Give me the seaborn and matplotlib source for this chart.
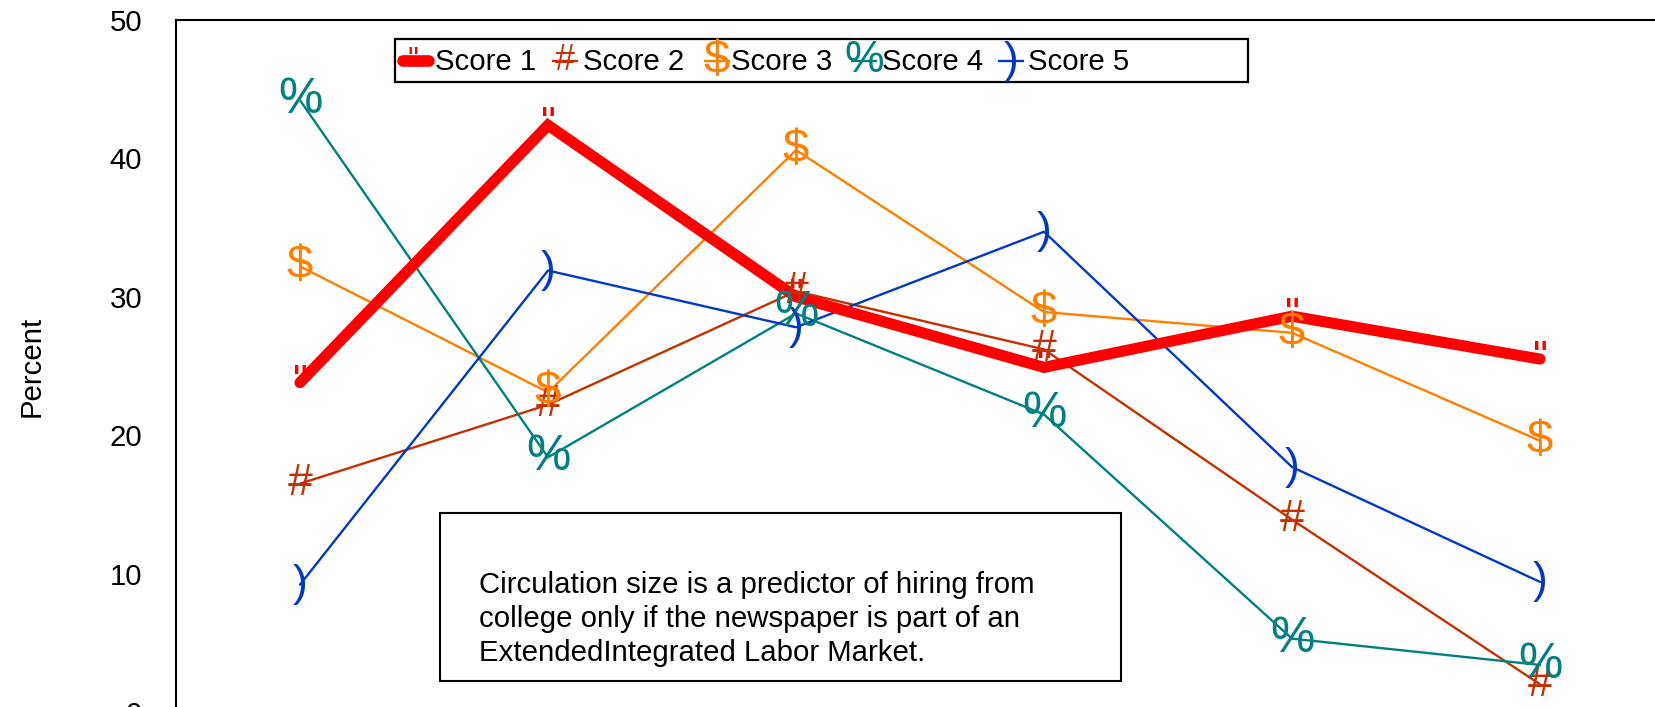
import matplotlib
matplotlib.use("Agg")
import matplotlib.pyplot as plt
import seaborn as sns
import pandas as pd
from matplotlib.patches import Rectangle
from matplotlib.lines import Line2D

# ---------------- data ----------------
categories = [1, 2, 3, 4, 5, 6]
score_1 = [23.8, 42.4, 30.0, 24.9, 28.6, 25.5]
score_2 = [16.5, 22.2, 30.4, 26.2, 13.9, 2.0]
score_3 = [32.2, 23.1, 40.6, 28.9, 27.4, 19.6]
score_4 = [44.2, 18.4, 28.8, 21.5, 5.3, 3.4]
score_5 = [9.2, 31.9, 27.8, 34.7, 17.7, 9.4]
series_names = ["Score 1", "Score 2", "Score 3", "Score 4", "Score 5"]
series_values = [score_1, score_2, score_3, score_4, score_5]
marker_glyphs = ['"', '#', '$', '%', ')']
colors = ["#FF0000", "#C43000", "#FF8000", "#008080", "#0038C8"]
line_widths = [8.0, 1.7, 1.7, 1.7, 1.7]
y_ticks = [0, 10, 20, 30, 40, 50]
y_label = "Percent"
annotation = ("Circulation size is a predictor of hiring from\n"
              "college only if the newspaper is part of an\n"
              "ExtendedIntegrated Labor Market.")

# ---------------- styling ----------------
W, H = 1656, 707
sns.set_theme(style="white")
plt.rcParams["font.family"] = ["Liberation Sans", "DejaVu Sans"]
FS = 21.2
glyph_sizes = [30, 32, 34, 36, 32]          # data marker glyph sizes
legend_glyph_sizes = [22, 26, 34, 32, 32]   # legend glyph sizes


def fx(px):
    return px / W


def fy(py):
    return 1 - py / H


df = pd.DataFrame({
    "category": categories * len(series_names),
    "value": [v for vals in series_values for v in vals],
    "series": [n for n in series_names for _ in categories],
})

fig = plt.figure(figsize=(W / 100, H / 100), dpi=100)
ax = fig.add_axes([fx(176), (H - 712) / H, (1664 - 176) / W, (712 - 20) / H])

# draw thin series first, the thick Score 1 last (on top)
order = [1, 2, 3, 4, 0]
for i in order:
    name = series_names[i]
    sub = df[df["series"] == name]
    sns.lineplot(data=sub, x="category", y="value", color=colors[i],
                 linewidth=line_widths[i], estimator=None, sort=False,
                 legend=False, ax=ax, zorder=2 + (i == 0))
    line = ax.get_lines()[-1]
    if i == 0:
        line.set_solid_capstyle("round")
        line.set_solid_joinstyle("miter")

# glyph markers
for i, name in enumerate(series_names):
    sub = df[df["series"] == name]
    for x, v in zip(sub["category"], sub["value"]):
        ax.text(x, v, marker_glyphs[i], ha="center", va="center",
                fontsize=glyph_sizes[i], color=colors[i], zorder=5,
                parse_math=False)

ax.set_xlim(0.5, 6.5)
ax.set_ylim(0, 50)
ax.set_yticks(y_ticks)
ax.set_xticks([])
ax.set_xlabel("")
ax.set_ylabel(y_label, fontsize=FS, color="black", labelpad=46)
ax.tick_params(axis="y", length=0, pad=24.5, labelsize=FS, colors="black")
for sp in ax.spines.values():
    sp.set_visible(True)
    sp.set_color("black")
    sp.set_linewidth(1.5)
ax.grid(False)

# ---------------- legend (manual, framed) ----------------
fig.add_artist(Rectangle((fx(395), fy(82)), fx(1248) - fx(395), (82 - 39) / H,
                         transform=fig.transFigure, facecolor="white",
                         edgecolor="black", linewidth=1.6, zorder=10))
handle_centers = [416, 565, 717, 864, 1011]
handle_half = [13, 13, 13, 13, 13]
text_starts = [435, 583, 731, 882, 1028]
for i, name in enumerate(series_names):
    c = handle_centers[i]
    lw = 8.4 if i == 0 else 1.7
    ln = Line2D([fx(c - handle_half[i]), fx(c + handle_half[i])], [fy(60.7), fy(60.7)],
                transform=fig.transFigure, color=colors[i], linewidth=lw,
                solid_capstyle="round" if i == 0 else "butt", zorder=11)
    fig.add_artist(ln)
    gx = c - 3 if i == 0 else c
    fig.text(fx(gx), fy(61), marker_glyphs[i], ha="center", va="center",
             fontsize=legend_glyph_sizes[i], color=colors[i], zorder=12,
             parse_math=False)
    fig.text(fx(text_starts[i]), fy(70.5), name, ha="left", va="baseline",
             fontsize=FS, color="black", zorder=12)

# ---------------- annotation box ----------------
fig.add_artist(Rectangle((fx(440), fy(681)), fx(1121) - fx(440), (681 - 513) / H,
                         transform=fig.transFigure, facecolor="white",
                         edgecolor="black", linewidth=1.5, zorder=10))
fig.text(fx(479), fy(571), annotation, ha="left", va="top", fontsize=FS,
         color="black", linespacing=1.28, zorder=12)

fig.savefig("out.png", dpi=100)
